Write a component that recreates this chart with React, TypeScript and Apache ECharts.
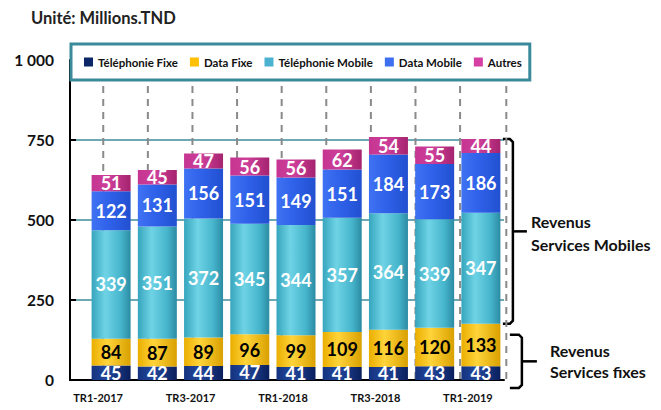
import React, { useEffect, useRef } from "react";
import * as echarts from "echarts";

const categories = ["TR1-2017", "TR2-2017", "TR3-2017", "TR4-2017", "TR1-2018", "TR2-2018", "TR3-2018", "TR4-2018", "TR1-2019"];
const telFixe = [45, 42, 44, 47, 41, 41, 41, 43, 43];
const dataFixe = [84, 87, 89, 96, 99, 109, 116, 120, 133];
const telMobile = [339, 351, 372, 345, 344, 357, 364, 339, 347];
const dataMobile = [122, 131, 156, 151, 149, 151, 184, 173, 186];
const autres = [51, 45, 47, 56, 56, 62, 54, 55, 44];
const seriesNames = ["Téléphonie Fixe", "Data Fixe", "Téléphonie Mobile", "Data Mobile", "Autres"];
const yMin = 0;
const yMax = 1000;
const yStep = 250;

const FONT = "Lato, 'Open Sans', sans-serif";

const grad = (stops: [number, string][]) =>
  new echarts.graphic.LinearGradient(0, 0, 1, 0, stops.map(([offset, color]) => ({ offset, color })));

const legendColors = ["#0b2767", "#ffc000", "#4bb3d0", "#3d6ff0", "#d63fa3"];
const barFills = [
  grad([[0, "#14337f"], [0.4, "#22479c"], [1, "#0a1f5c"]]),
  grad([[0, "#eaae00"], [0.4, "#ffd43a"], [1, "#d9a000"]]),
  grad([[0, "#36a5bd"], [0.35, "#6fd3e5"], [0.75, "#46b5cc"], [1, "#2b8ba3"]]),
  grad([[0, "#3f72f3"], [0.45, "#2f61e9"], [1, "#2150d0"]]),
  grad([[0, "#c53591"], [0.45, "#cd3f99"], [1, "#a5236f"]]),
];
const labelColors = ["#ffffff", "#000000", "#ffffff", "#ffffff", "#ffffff"];

export default function App() {
  const ref = useRef<HTMLDivElement>(null);
  useEffect(() => {
    document.body.style.margin = "0";
    const chart = echarts.init(ref.current!, null, { renderer: "svg" });
    const values = [telFixe, dataFixe, telMobile, dataMobile, autres];
    const barSeries = values.map((data, k) => ({
      name: seriesNames[k],
      type: "bar",
      stack: "total",
      xAxisIndex: 0,
      yAxisIndex: 0,
      barWidth: 39,
      z: 2,
      data,
      itemStyle: { color: barFills[k] },
      label: {
        show: true,
        position: "inside",
        color: labelColors[k],
        fontFamily: FONT,
        fontWeight: "bold",
        fontSize: 18,
      },
    }));
    const option: any = {
      animation: false,
      backgroundColor: "#ffffff",
      title: {
        text: "Unité: Millions.TND",
        left: 26,
        top: 4,
        textStyle: { fontFamily: FONT, fontWeight: "bold", fontSize: 16.5, color: "#222" },
      },
      legend: {
        left: 71,
        top: 44,
        padding: [12, 8, 12, 13],
        itemGap: 12,
        itemWidth: 9,
        itemHeight: 9,
        icon: "rect",
        borderColor: "#3a8a9c",
        borderWidth: 3,
        backgroundColor: "#ffffff",
        data: seriesNames.map((n, k) => ({ name: n, itemStyle: { color: legendColors[k] } })),
        textStyle: { fontFamily: FONT, fontWeight: "bold", fontSize: 11.5, color: "#111" },
      },
      grid: [
        { left: 88, right: 157, top: 60, bottom: 30 },
        { left: 70, right: 157, top: 60, bottom: 30 },
      ],
      xAxis: [
        {
          type: "category",
          gridIndex: 0,
          data: categories,
          axisLine: { show: false },
          axisTick: { show: false },
          axisLabel: {
            interval: 1,
            margin: 12,
            padding: [0, 26, 0, 0],
            fontFamily: FONT,
            fontWeight: "bold",
            fontSize: 11,
            color: "#111",
          },
        },
        {
          type: "category",
          gridIndex: 1,
          data: categories,
          axisLine: { show: true, lineStyle: { color: "#000", width: 2 } },
          axisTick: { show: false },
          axisLabel: { show: false },
        },
      ],
      yAxis: [
        {
          type: "value",
          gridIndex: 0,
          min: yMin,
          max: yMax,
          interval: yStep,
          offset: 18,
          axisLine: { show: true, lineStyle: { color: "#000", width: 2 } },
          axisTick: { show: true, inside: true, length: 6, lineStyle: { color: "#000", width: 2 } },
          splitLine: { show: false },
          axisLabel: {
            margin: 16,
            fontFamily: FONT,
            fontWeight: "bold",
            fontSize: 15.5,
            color: "#111",
            formatter: (v: number) => (v >= 1000 ? String(v).replace(/(\d)(?=(\d{3})+$)/g, "$1 ") : String(v)),
          },
        },
        {
          type: "value",
          gridIndex: 1,
          min: yMin,
          max: yMax,
          interval: yStep,
          axisLine: { show: false },
          axisTick: { show: false },
          axisLabel: { show: false },
          splitLine: { show: true, lineStyle: { color: "#3f8b9c", width: 1.5 } },
        },
      ],
      series: [
        {
          type: "custom",
          name: "grille",
          xAxisIndex: 0,
          yAxisIndex: 0,
          z: 1,
          silent: true,
          data: categories.map((_, i) => [i]),
          renderItem: (params: any, api: any) => {
            const i = api.value(0);
            const band = api.size([1, 0])[0];
            const base = api.coord([i, yMin]);
            const top = api.coord([i, yMax]);
            const x = base[0] - band * (0.17 + 0.035 * i);
            const style = { stroke: "#8a8a8a", lineWidth: 2, lineDash: [7, 6] };
            const children: any[] = [
              { type: "line", shape: { x1: x, y1: top[1], x2: x, y2: base[1] }, style },
            ];
            if (i === categories.length - 1) {
              const xr = base[0] + band * 0.55;
              children.push({ type: "line", shape: { x1: xr, y1: top[1], x2: xr, y2: base[1] }, style });
            }
            return { type: "group", children };
          },
        },
        ...barSeries,
      ],
    };
    chart.setOption(option);

    // brackets for the last quarter
    const last = categories.length - 1;
    const fixeTotal = telFixe[last] + dataFixe[last];
    const total = fixeTotal + telMobile[last] + dataMobile[last] + autres[last];
    const pTop = chart.convertToPixel({ xAxisIndex: 0, yAxisIndex: 0 }, [last, total]) as number[];
    const pMid = chart.convertToPixel({ xAxisIndex: 0, yAxisIndex: 0 }, [last, fixeTotal]) as number[];
    const pZero = chart.convertToPixel({ xAxisIndex: 0, yAxisIndex: 0 }, [last, 0]) as number[];
    const cx = pTop[0];
    const stroke = { stroke: "#000", lineWidth: 2.5, fill: null };
    const bracket = (x0: number, x1: number, xs: number, t: number, b: number) => {
      const m = (t + b) / 2;
      return [
        {
          type: "polyline",
          shape: { points: [[x0, t], [x1 - 3, t], [x1, t + 3], [x1, b - 3], [x1 - 3, b], [x0, b]] },
          style: stroke,
        },
        { type: "line", shape: { x1: x1, y1: m, x2: xs, y2: m }, style: stroke },
      ];
    };
    const mTop = pTop[1];
    const mBot = pMid[1];
    const fTop = pMid[1] + 11;
    const fBot = pZero[1] + 8;
    chart.setOption({
      graphic: [
        ...bracket(cx + 22, cx + 32, cx + 46, mTop, mBot),
        ...bracket(cx + 29, cx + 41, cx + 56, fTop, fBot),
        {
          type: "text",
          x: cx + 50,
          y: (mTop + mBot) / 2 + 2,
          style: {
            text: "Revenus\nServices Mobiles",
            fontFamily: FONT,
            fontWeight: "bold",
            fontSize: 16,
            lineHeight: 23,
            fill: "#111",
            verticalAlign: "middle",
            align: "left",
          },
        },
        {
          type: "text",
          x: cx + 69,
          y: (fTop + fBot) / 2,
          style: {
            text: "Revenus\nServices fixes",
            fontFamily: FONT,
            fontWeight: "bold",
            fontSize: 16,
            lineHeight: 21,
            fill: "#111",
            verticalAlign: "middle",
            align: "left",
          },
        },
      ],
    });
    return () => chart.dispose();
  }, []);
  return <div ref={ref} style={{ width: 661, height: 410 }} />;
}
